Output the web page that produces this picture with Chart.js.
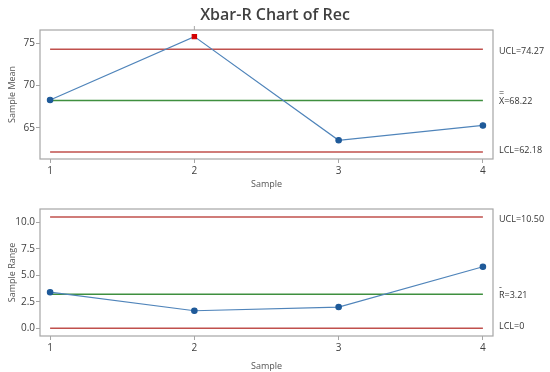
<!DOCTYPE html>
<html>
<head>
<meta charset="utf-8">
<script src="https://cdn.jsdelivr.net/npm/chart.js@4.4.1/dist/chart.umd.min.js"></script>
<style>
  html, body { margin: 0; padding: 0; background: #ffffff; }
  #wrap { position: relative; width: 550px; height: 372px; }
  #c1 { position: absolute; left: 0; top: 0; }
  #c2 { position: absolute; left: 0; top: 190px; }
</style>
</head>
<body>
<div id="wrap">
  <canvas id="c1" width="550" height="190"></canvas>
  <canvas id="c2" width="550" height="182"></canvas>
</div>
<script>
// ---- data ----
const samples = [1, 2, 3, 4];
const sampleMeans = [68.3, 75.75, 63.55, 65.3];
const sampleRanges = [3.4, 1.65, 2.0, 5.8];
const xbarLimits = { ucl: 74.27, center: 68.22, lcl: 62.18 };
const rangeLimits = { ucl: 10.50, center: 3.21, lcl: 0 };
const xbarLabels = ['UCL=74.27', 'X=68.22', 'LCL=62.18'];
const rangeLabels = ['UCL=10.50', 'R=3.21', 'LCL=0'];
const xbarTicks = [65, 70, 75];
const rangeTicks = [0, 2.5, 5, 7.5, 10];
const outOfControl = [2]; // sample numbers flagged in the Xbar chart

const FONT = "'Open Sans', 'Noto Sans', sans-serif";
const RED = '#c0504d';
const GREEN = '#3f8f3f';
const BLUE_LINE = '#4f84ba';
const BLUE_PT = '#1f5a99';
const TEXT = '#404040';

function limitLine(v, color) {
  return {
    type: 'line',
    data: [{ x: samples[0], y: v }, { x: samples[samples.length - 1], y: v }],
    borderColor: color, borderWidth: 1.5, pointRadius: 0, order: 2
  };
}

function makePlugin(limits, labels, barChar, showTitle) {
  return {
    id: 'deco',
    afterDraw(chart) {
      const ctx = chart.ctx;
      const a = chart.chartArea;
      const ys = chart.scales.y;
      ctx.save();
      // box
      ctx.strokeStyle = '#a6a6a6';
      ctx.lineWidth = 1.2;
      ctx.strokeRect(a.left, a.top, a.right - a.left, a.bottom - a.top);
      // right labels
      ctx.fillStyle = '#333333';
      ctx.font = '9px ' + FONT;
      ctx.textAlign = 'left';
      ctx.textBaseline = 'middle';
      const lx = a.right + 6;
      const vals = [limits.ucl, limits.center, limits.lcl];
      vals.forEach((v, i) => {
        let y = ys.getPixelForValue(v);
        if (i === 0) y += 2;
        if (i === 1) y += 1;
        if (i === 2) y -= 2;
        ctx.fillText(labels[i], lx, y);
        if (i === 1) {
          ctx.fillText(barChar, lx, y - 8);
        }
      });
      if (showTitle) {
        ctx.fillStyle = '#404040';
        ctx.font = '600 16px ' + FONT;
        ctx.textAlign = 'center';
        ctx.textBaseline = 'alphabetic';
        ctx.fillText('Xbar-R Chart of Rec', 275, 20);
        // out-of-control markers above the box
        ctx.strokeStyle = '#a6a6a6';
        ctx.lineWidth = 1;
        outOfControl.forEach(s => {
          const x = chart.scales.x.getPixelForValue(s);
          ctx.beginPath();
          ctx.moveTo(x, a.top);
          ctx.lineTo(x, a.top - 4);
          ctx.stroke();
        });
      }
      ctx.restore();
    }
  };
}

function makeChart(id, values, limits, labels, barChar, yMin, yMax, ticks, tickFmt, yTitle, pad, xHeight, showTitle) {
  const pointColors = samples.map(s => (showTitle && outOfControl.includes(s)) ? '#d40000' : BLUE_PT);
  const pointStyles = samples.map(s => (showTitle && outOfControl.includes(s)) ? 'rect' : 'circle');
  const pointRadii = samples.map(s => (showTitle && outOfControl.includes(s)) ? 3 : 2.7);
  return new Chart(document.getElementById(id), {
    type: 'line',
    data: {
      datasets: [
        {
          data: samples.map((s, i) => ({ x: s, y: values[i] })),
          borderColor: BLUE_LINE, borderWidth: 1.2,
          pointBackgroundColor: pointColors, pointBorderColor: pointColors,
          pointStyle: pointStyles, pointRadius: pointRadii, order: 1
        },
        limitLine(limits.ucl, RED),
        limitLine(limits.center, GREEN),
        limitLine(limits.lcl, RED)
      ]
    },
    options: {
      responsive: false,
      animation: false,
      events: [],
      layout: { padding: pad },
      plugins: { legend: { display: false }, tooltip: { enabled: false }, title: { display: false } },
      scales: {
        x: {
          type: 'linear', min: 0.93, max: 4.07,
          afterBuildTicks: s => { s.ticks = samples.map(v => ({ value: v })); },
          afterFit: s => { s.height = xHeight; },
          grid: { drawOnChartArea: false, tickLength: 4, color: '#a6a6a6' },
          border: { display: false },
          ticks: { color: TEXT, font: { family: FONT, size: 10 }, padding: 2, callback: v => String(v) },
          title: { display: true, text: 'Sample', color: '#555555', font: { family: FONT, size: 9 }, padding: { top: 2, bottom: 0 } }
        },
        y: {
          min: yMin, max: yMax,
          afterBuildTicks: s => { s.ticks = ticks.map(v => ({ value: v })); },
          afterFit: s => { s.width = 33; },
          grid: { drawOnChartArea: false, tickLength: 4, color: '#a6a6a6' },
          border: { display: false },
          ticks: { color: TEXT, font: { family: FONT, size: 10 }, padding: 1, callback: tickFmt },
          title: { display: true, text: yTitle, color: '#555555', font: { family: FONT, size: 9 }, padding: { top: 0, bottom: 2 } }
        }
      }
    },
    plugins: [makePlugin(limits, labels, barChar, showTitle)]
  });
}

makeChart('c1', sampleMeans, xbarLimits, xbarLabels, '=', 61.35, 76.53, xbarTicks,
  v => String(v), 'Sample Mean', { top: 30, right: 57, left: 7, bottom: 0 }, 31, true);
makeChart('c2', sampleRanges, rangeLimits, rangeLabels, '-', -0.73, 11.25, rangeTicks,
  v => Number(v).toFixed(1), 'Sample Range', { top: 19, right: 57, left: 7, bottom: 0 }, 36, false);
</script>
</body>
</html>
